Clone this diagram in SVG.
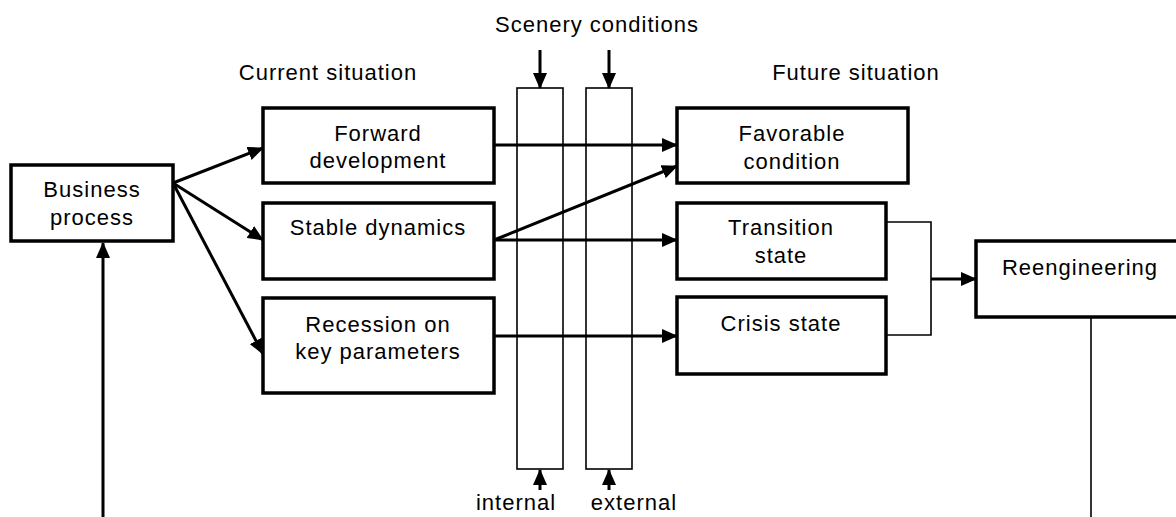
<svg xmlns="http://www.w3.org/2000/svg" width="1176" height="517" viewBox="0 0 1176 517">
<style>
text{font-family:"Liberation Sans",Arial,sans-serif;font-size:22px;letter-spacing:1px;fill:#000;text-anchor:middle}
.box{fill:#fff;stroke:#000;stroke-width:3.5}
.strip{fill:#fff;stroke:#000;stroke-width:1.6}
.c{fill:none;stroke:#000;stroke-width:3}
.t{fill:none;stroke:#000;stroke-width:1.6}
</style>
<defs>
<marker id="ah" markerWidth="16" markerHeight="14" refX="15" refY="7" orient="auto" markerUnits="userSpaceOnUse">
<path d="M0,0 L16,7 L0,14 Z" fill="#000"/>
</marker>
</defs>
<g id="labels">
<text x="328" y="80">Current situation</text>
<text x="597" y="32">Scenery conditions</text>
<text x="856" y="80">Future situation</text>
<text x="516" y="510">internal</text>
<text x="634" y="510">external</text>
</g>
<g id="strip-internal"><rect class="strip" x="517" y="88" width="46" height="381"/></g>
<g id="strip-external"><rect class="strip" x="586" y="88" width="46" height="381"/></g>
<g id="connectors">
<line class="c" x1="540" y1="50" x2="540" y2="88" marker-end="url(#ah)"/>
<line class="c" x1="609" y1="50" x2="609" y2="88" marker-end="url(#ah)"/>
<line class="c" x1="540" y1="490" x2="540" y2="470" marker-end="url(#ah)"/>
<line class="c" x1="609" y1="490" x2="609" y2="470" marker-end="url(#ah)"/>
<line class="c" x1="103" y1="517" x2="103" y2="243" marker-end="url(#ah)"/>
<line class="c" x1="173" y1="183" x2="263" y2="148" marker-end="url(#ah)"/>
<line class="c" x1="173" y1="183" x2="263" y2="240" marker-end="url(#ah)"/>
<line class="c" x1="173" y1="183" x2="263" y2="354" marker-end="url(#ah)"/>
<line class="c" x1="494" y1="145" x2="677" y2="145" marker-end="url(#ah)"/>
<line class="c" x1="494" y1="240" x2="677" y2="166" marker-end="url(#ah)"/>
<line class="c" x1="494" y1="240" x2="677" y2="240" marker-end="url(#ah)"/>
<line class="c" x1="494" y1="336" x2="677" y2="336" marker-end="url(#ah)"/>
<polyline class="t" points="886,222 931,222 931,335 886,335"/>
<line class="c" x1="931" y1="279" x2="976" y2="279" marker-end="url(#ah)"/>
<line class="t" x1="1091" y1="317" x2="1091" y2="517"/>
</g>
<g id="business-process">
<rect class="box" x="11" y="165" width="162" height="76"/>
<text x="92" y="197">Business</text>
<text x="92" y="225">process</text>
</g>
<g id="forward-development">
<rect class="box" x="263" y="108" width="231" height="75"/>
<text x="378" y="141">Forward</text>
<text x="378" y="168">development</text>
</g>
<g id="stable-dynamics">
<rect class="box" x="263" y="203" width="231" height="76"/>
<text x="378" y="235">Stable dynamics</text>
</g>
<g id="recession">
<rect class="box" x="263" y="298" width="231" height="95"/>
<text x="378" y="332">Recession on</text>
<text x="378" y="359">key parameters</text>
</g>
<g id="favorable-condition">
<rect class="box" x="677" y="108" width="231" height="75"/>
<text x="792" y="141">Favorable</text>
<text x="792" y="169">condition</text>
</g>
<g id="transition-state">
<rect class="box" x="677" y="203" width="209" height="76"/>
<text x="781" y="235">Transition</text>
<text x="781" y="263">state</text>
</g>
<g id="crisis-state">
<rect class="box" x="677" y="297" width="209" height="77"/>
<text x="781" y="331">Crisis state</text>
</g>
<g id="reengineering">
<rect class="box" x="976" y="241" width="208" height="76"/>
<text x="1080" y="275">Reengineering</text>
</g>
</svg>
